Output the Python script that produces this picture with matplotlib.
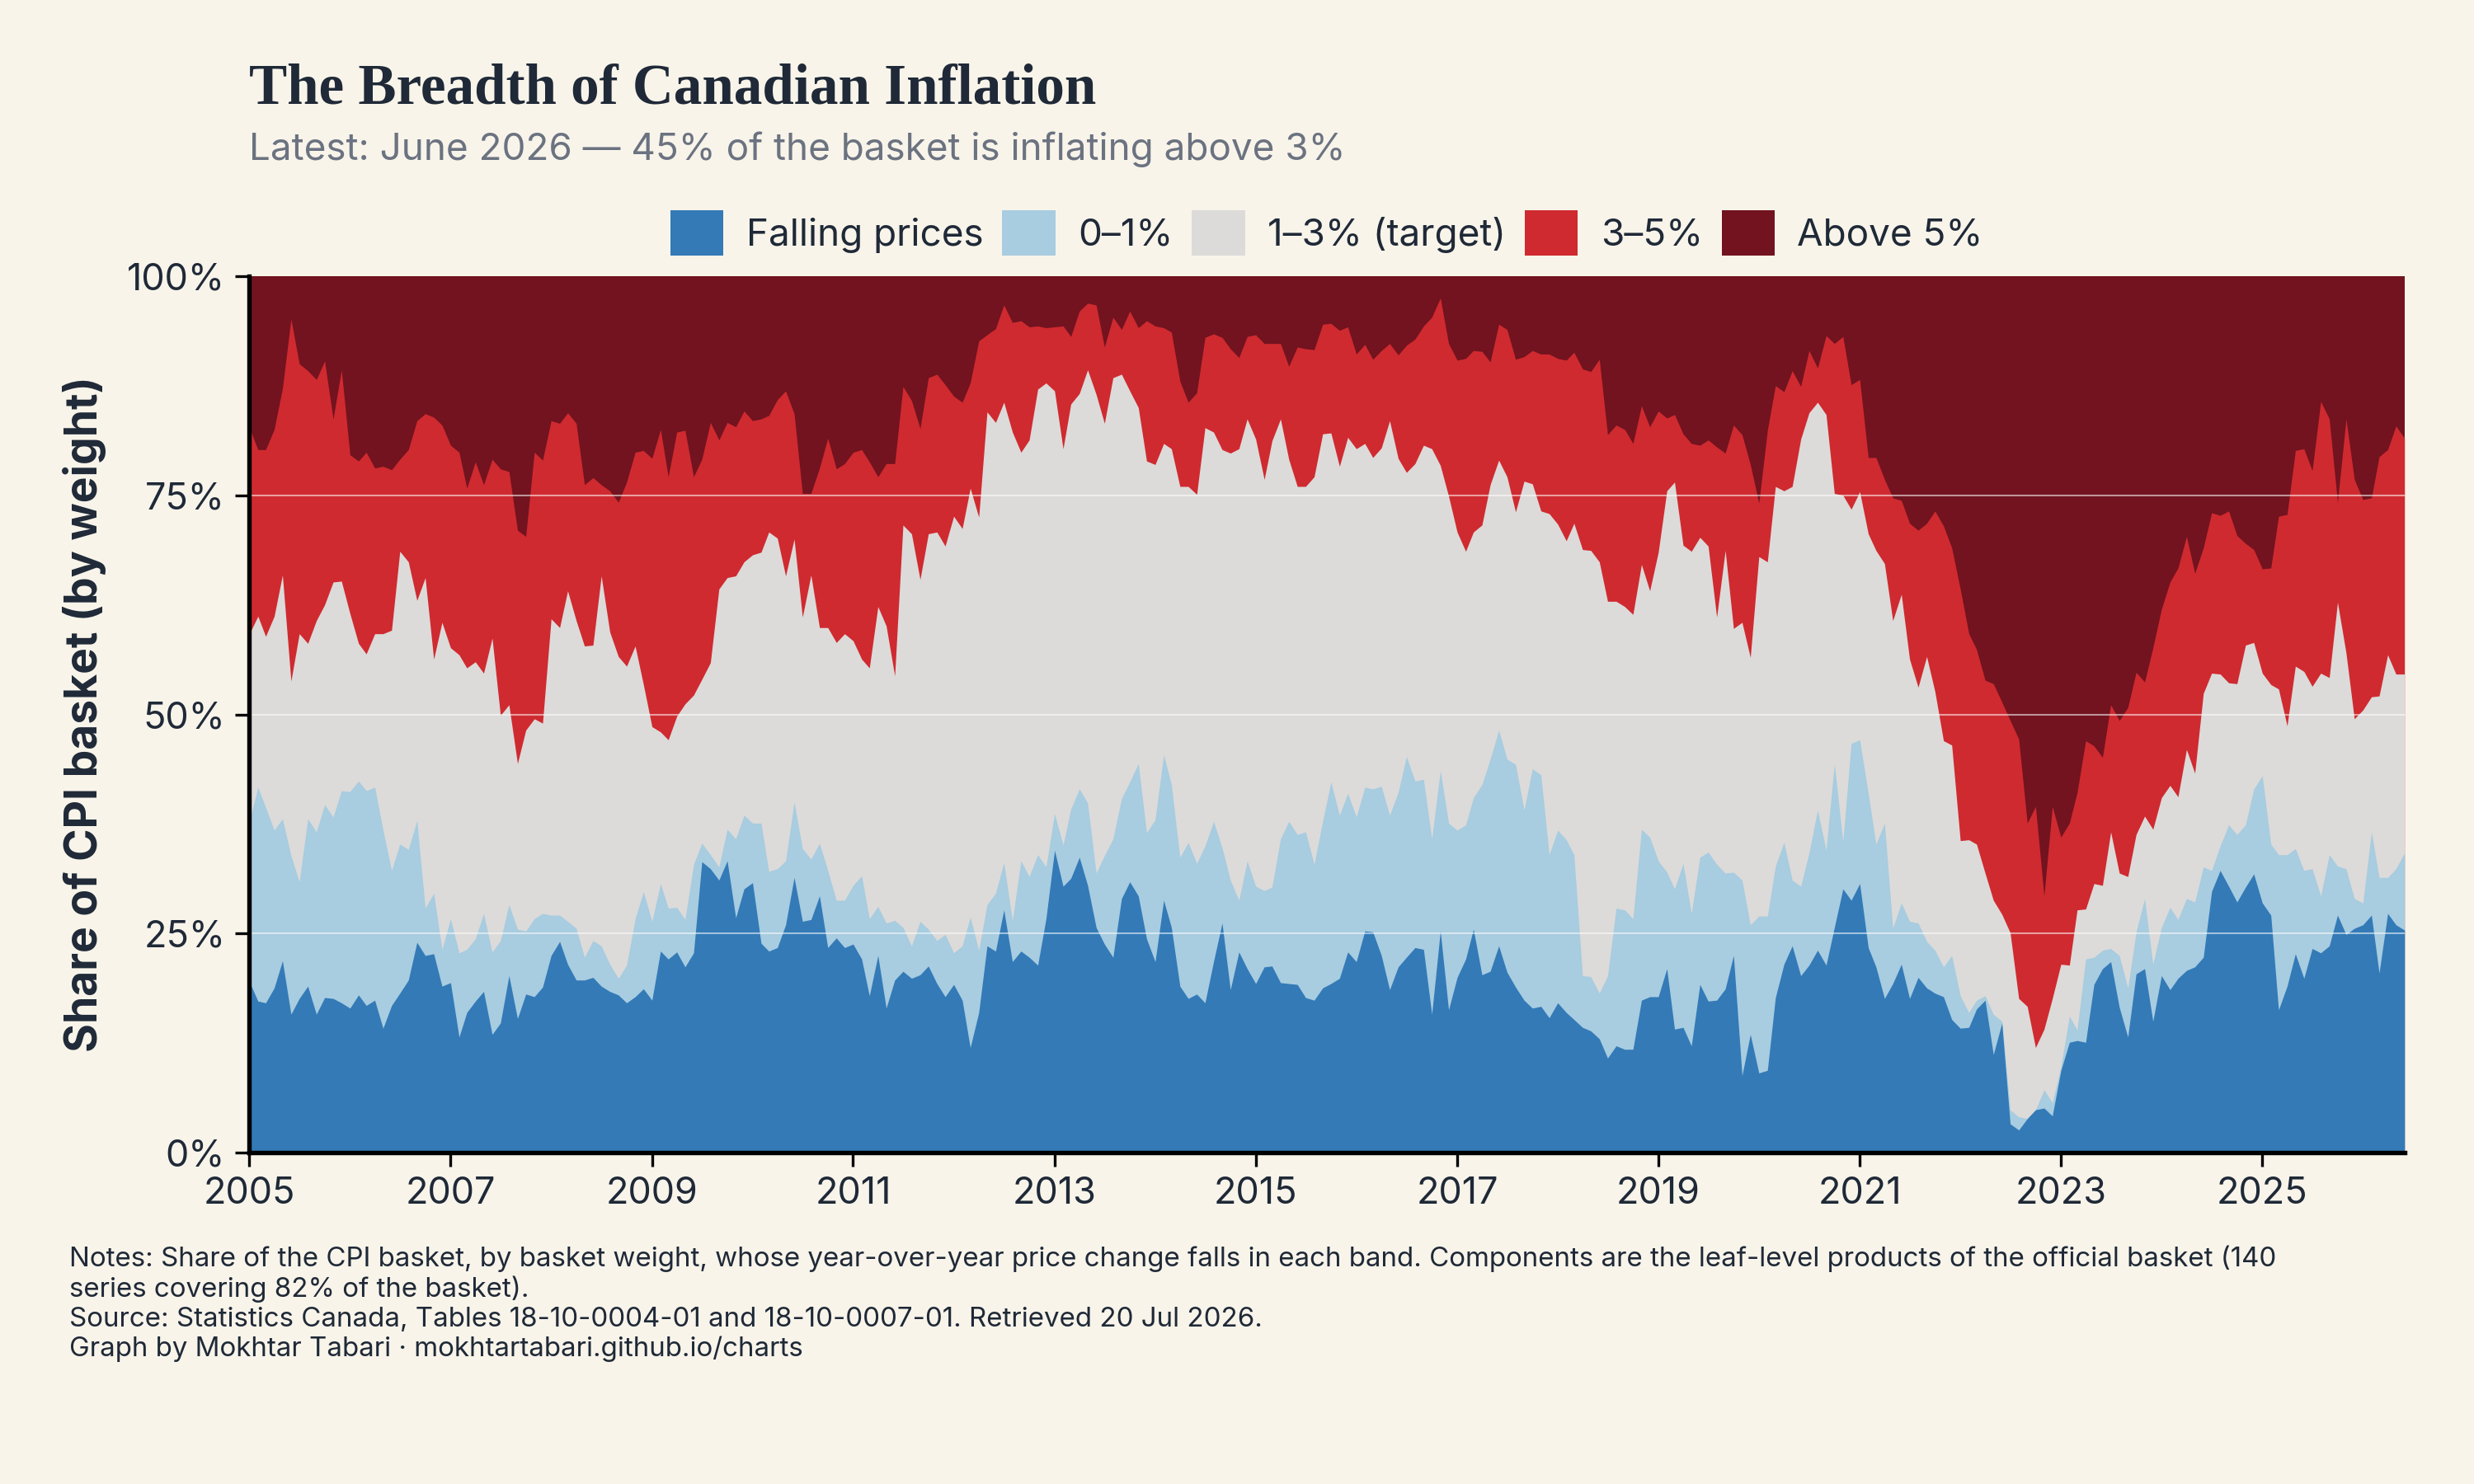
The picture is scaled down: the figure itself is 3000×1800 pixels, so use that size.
import numpy as np
import pandas as pd
import matplotlib
matplotlib.use("agg")
import matplotlib.pyplot as plt
from matplotlib.patches import Patch

plt.rcParams["font.family"] = ["Inter", "DejaVu Sans"]

months = pd.date_range("2005-01-01", "2026-06-01", freq="MS")

# share of the basket (by weight, %) whose y/y change is below each threshold
below_0 = [
    19.5, 17.3, 17.1, 18.8, 21.9, 15.8, 17.6, 19.0, 15.8, 17.7, 17.6, 17.1,
    16.5, 18.0, 16.8, 17.4, 14.2, 16.8, 18.2, 19.7, 24.0, 22.5, 22.7, 19.0,
    19.4, 13.2, 16.0, 17.3, 18.4, 13.5, 14.8, 20.2, 15.3, 18.1, 17.8, 18.9,
    22.5, 24.1, 21.5, 19.7, 19.7, 20.0, 19.0, 18.4, 18.0, 17.1, 17.8, 18.7,
    17.4, 23.0, 22.1, 22.9, 21.2, 22.8, 33.2, 32.4, 31.1, 33.3, 26.8, 30.1,
    30.8, 23.9, 23.0, 23.4, 26.0, 31.4, 26.4, 26.6, 29.3, 23.4, 24.5, 23.4,
    23.8, 22.1, 17.9, 22.5, 16.5, 19.7, 20.7, 19.9, 20.3, 21.3, 19.3, 17.8,
    19.2, 17.4, 12.0, 16.0, 23.6, 23.0, 27.7, 21.8, 23.0, 22.3, 21.4, 26.7,
    34.5, 30.4, 31.3, 33.7, 30.5, 25.7, 23.8, 22.3, 29.0, 30.9, 29.3, 24.4,
    21.8, 28.8, 25.7, 19.0, 17.6, 18.1, 17.1, 21.8, 26.2, 18.6, 22.9, 21.0,
    19.3, 21.2, 21.3, 19.4, 19.3, 19.2, 17.7, 17.4, 18.8, 19.3, 19.9, 22.9,
    21.8, 25.3, 25.2, 22.5, 18.6, 21.2, 22.3, 23.4, 23.2, 15.8, 25.3, 16.3,
    20.0, 22.1, 25.5, 20.3, 20.7, 23.6, 20.6, 18.9, 17.4, 16.5, 16.7, 15.4,
    17.1, 16.0, 15.2, 14.3, 13.9, 13.0, 10.8, 12.2, 11.8, 11.8, 17.4, 17.8,
    17.8, 21.0, 14.1, 14.3, 12.2, 19.2, 17.3, 17.4, 18.7, 22.5, 8.8, 13.5,
    9.1, 9.4, 17.7, 21.5, 23.6, 20.2, 21.4, 23.1, 21.4, 25.7, 30.1, 28.8,
    30.7, 23.4, 21.2, 17.6, 19.3, 21.5, 17.6, 20.0, 18.8, 18.2, 17.8, 15.2,
    14.2, 14.3, 16.4, 17.4, 11.2, 14.8, 3.3, 2.6, 3.9, 4.9, 5.1, 4.2,
    9.4, 12.6, 12.8, 12.6, 19.2, 21.0, 21.8, 16.6, 13.2, 20.4, 21.0, 15.0,
    20.2, 18.6, 19.9, 20.8, 21.2, 22.3, 29.8, 32.2, 30.4, 28.6, 30.3, 31.8,
    28.5, 27.1, 16.3, 19.0, 22.7, 19.9, 23.3, 22.8, 23.6, 27.1, 24.9, 25.6,
    26.0, 27.1, 20.5, 27.3, 26.0, 25.4,
]

below_1 = [
    37.8, 41.7, 39.4, 36.8, 38.1, 33.9, 30.9, 38.1, 36.6, 39.7, 38.3, 41.3,
    41.2, 42.4, 41.3, 41.7, 36.8, 32.2, 35.2, 34.6, 37.9, 27.9, 29.6, 23.2,
    26.7, 22.8, 23.2, 24.4, 27.3, 22.9, 24.2, 28.3, 25.5, 25.3, 26.7, 27.3,
    27.1, 27.1, 26.4, 25.6, 22.3, 24.2, 23.6, 21.5, 19.9, 21.4, 26.7, 29.8,
    26.4, 30.7, 27.9, 28.0, 26.6, 32.9, 35.3, 34.0, 32.6, 36.9, 35.8, 38.5,
    37.6, 37.6, 32.1, 32.4, 33.3, 40.0, 34.7, 33.5, 35.3, 32.2, 28.8, 28.8,
    30.5, 31.6, 26.7, 28.1, 26.2, 26.5, 25.7, 23.6, 26.4, 25.5, 24.2, 24.9,
    22.8, 23.6, 26.9, 23.1, 28.3, 29.6, 33.1, 26.5, 33.3, 31.5, 34.0, 32.6,
    38.7, 35.1, 39.2, 41.5, 39.9, 31.9, 33.9, 35.8, 40.4, 42.3, 44.4, 36.5,
    38.0, 45.4, 42.0, 33.7, 35.4, 33.0, 35.0, 37.8, 34.8, 31.1, 28.8, 33.3,
    30.4, 29.9, 30.3, 35.8, 37.8, 36.3, 36.6, 32.9, 37.8, 42.3, 38.5, 41.0,
    38.3, 41.7, 41.5, 41.8, 38.5, 41.1, 45.2, 42.4, 42.6, 35.8, 43.6, 37.6,
    36.8, 37.4, 40.5, 42.0, 44.9, 48.2, 44.9, 44.3, 39.1, 43.8, 43.1, 34.0,
    36.8, 35.7, 34.0, 20.2, 20.1, 18.2, 20.2, 27.9, 27.7, 26.7, 36.9, 36.0,
    33.3, 32.0, 30.1, 33.0, 27.3, 33.7, 34.3, 32.9, 31.9, 32.0, 31.1, 26.0,
    27.0, 27.0, 32.7, 35.4, 31.1, 30.4, 34.2, 39.1, 34.5, 44.4, 35.5, 46.7,
    47.1, 41.0, 35.2, 37.6, 25.6, 28.5, 26.4, 26.2, 24.1, 23.1, 21.2, 22.5,
    17.9, 16.0, 17.4, 17.9, 15.8, 15.0, 4.9, 4.1, 3.9, 4.9, 7.2, 5.7,
    9.8, 15.6, 14.0, 22.1, 22.3, 23.1, 23.3, 22.5, 18.8, 25.2, 29.0, 21.5,
    25.7, 28.0, 26.6, 29.0, 28.6, 32.6, 32.2, 35.0, 37.4, 36.3, 37.4, 41.5,
    43.0, 35.2, 34.0, 34.0, 34.7, 32.2, 32.4, 29.3, 34.0, 32.7, 32.4, 29.0,
    28.5, 36.6, 31.4, 31.4, 32.4, 34.2,
]

below_3 = [
    59.2, 61.2, 58.9, 61.2, 65.9, 53.8, 59.2, 58.1, 60.7, 62.5, 65.1, 65.2,
    61.5, 58.1, 56.9, 59.2, 59.2, 59.6, 68.6, 67.4, 63.0, 65.6, 56.3, 60.5,
    57.6, 56.8, 55.3, 56.0, 54.7, 58.7, 49.9, 51.1, 44.4, 48.2, 49.5, 49.0,
    60.9, 59.9, 64.1, 60.7, 57.8, 57.9, 65.8, 59.4, 56.6, 55.5, 57.8, 53.4,
    48.6, 48.0, 47.1, 49.8, 51.2, 52.2, 54.0, 55.9, 64.3, 65.6, 65.8, 67.4,
    68.2, 68.5, 70.8, 70.1, 65.8, 70.0, 61.1, 65.9, 59.9, 59.9, 58.2, 59.2,
    58.4, 56.3, 55.3, 62.3, 60.1, 54.4, 71.6, 70.6, 65.4, 70.6, 70.8, 69.2,
    72.6, 71.2, 75.8, 72.5, 84.5, 83.3, 85.6, 82.2, 79.9, 81.3, 87.1, 87.8,
    86.9, 80.3, 85.4, 86.6, 89.3, 86.5, 83.2, 88.4, 88.8, 86.9, 85.0, 78.9,
    78.5, 80.9, 80.3, 76.0, 76.0, 75.1, 82.7, 82.2, 80.2, 79.8, 80.3, 83.7,
    81.4, 76.8, 81.2, 83.7, 79.1, 76.0, 76.0, 77.1, 82.0, 82.1, 78.3, 81.6,
    80.3, 80.9, 79.3, 80.4, 83.5, 79.2, 77.6, 78.6, 80.7, 80.3, 78.4, 74.9,
    70.8, 68.6, 70.8, 71.6, 76.2, 79.0, 77.1, 73.1, 76.6, 76.3, 73.2, 72.9,
    71.7, 69.8, 71.8, 68.8, 68.7, 67.4, 62.9, 62.9, 62.3, 61.4, 67.1, 64.1,
    68.5, 75.5, 76.5, 69.3, 68.6, 70.2, 69.2, 61.1, 68.7, 59.8, 60.5, 56.5,
    68.0, 67.4, 76.0, 75.5, 76.0, 81.4, 84.4, 85.6, 84.2, 75.2, 75.0, 73.4,
    75.4, 70.6, 68.7, 67.2, 60.7, 63.7, 56.3, 53.1, 56.6, 52.6, 47.0, 46.5,
    35.6, 35.7, 35.2, 31.9, 28.8, 27.2, 25.1, 17.6, 16.7, 12.0, 14.1, 17.6,
    21.5, 21.4, 27.7, 27.8, 30.7, 30.5, 36.6, 31.9, 31.5, 36.3, 38.4, 36.9,
    40.5, 41.9, 40.6, 46.0, 43.3, 52.4, 54.7, 54.6, 53.6, 53.5, 57.9, 58.2,
    54.7, 53.4, 52.9, 48.7, 55.5, 54.9, 53.2, 54.7, 54.2, 62.8, 57.0, 49.5,
    50.5, 52.0, 52.1, 56.8, 54.6, 54.6,
]

below_5 = [
    82.7, 80.2, 80.2, 82.5, 87.2, 95.1, 90.0, 89.2, 88.2, 90.3, 83.7, 89.3,
    79.6, 78.9, 79.9, 78.1, 78.3, 77.9, 79.1, 80.2, 83.5, 84.3, 83.9, 83.0,
    80.7, 79.9, 75.8, 78.8, 76.2, 79.1, 78.0, 77.7, 71.0, 70.3, 79.9, 79.0,
    83.5, 83.2, 84.4, 83.2, 76.2, 77.0, 76.2, 75.5, 74.2, 76.5, 79.9, 80.1,
    79.2, 82.5, 77.1, 82.2, 82.4, 77.1, 79.1, 83.3, 81.3, 83.3, 82.8, 84.6,
    83.5, 83.7, 84.1, 85.9, 86.9, 84.3, 75.2, 75.2, 78.1, 81.5, 78.0, 78.6,
    79.9, 80.2, 78.8, 77.1, 78.6, 78.6, 87.4, 85.8, 82.6, 88.4, 88.8, 87.6,
    86.3, 85.6, 87.8, 92.6, 93.3, 94.0, 96.7, 94.7, 94.9, 94.2, 94.3, 94.1,
    94.2, 94.3, 93.1, 96.0, 96.9, 96.7, 91.9, 95.3, 93.9, 96.0, 94.1, 94.9,
    94.3, 94.1, 93.6, 88.0, 85.6, 86.7, 93.0, 93.4, 93.0, 91.7, 90.7, 93.1,
    93.3, 92.3, 92.3, 92.3, 89.7, 91.9, 91.7, 91.6, 94.5, 94.6, 93.8, 94.2,
    91.1, 92.2, 90.5, 91.5, 92.3, 91.0, 92.1, 92.8, 94.3, 95.3, 97.5, 92.3,
    90.4, 90.6, 91.5, 91.4, 90.2, 94.5, 93.9, 90.5, 90.8, 91.5, 91.1, 91.1,
    90.6, 90.4, 91.3, 89.4, 89.1, 90.5, 81.9, 83.0, 82.5, 80.9, 85.2, 82.8,
    84.6, 83.8, 84.2, 82.0, 80.9, 80.7, 81.3, 80.5, 79.8, 83.0, 81.9, 78.5,
    74.1, 82.4, 87.5, 86.8, 89.2, 87.4, 91.5, 89.5, 93.2, 92.3, 93.1, 87.6,
    88.2, 79.3, 79.3, 76.8, 74.7, 74.4, 71.8, 71.0, 71.8, 73.2, 71.5, 69.0,
    64.3, 59.2, 57.4, 53.9, 53.5, 51.4, 49.3, 47.2, 37.6, 39.5, 29.3, 39.5,
    36.0, 37.6, 41.1, 47.0, 46.4, 45.1, 51.1, 49.3, 50.8, 54.8, 53.7, 57.6,
    62.0, 65.1, 66.7, 70.3, 66.1, 69.0, 73.0, 72.7, 73.2, 70.4, 69.5, 68.8,
    66.6, 66.7, 72.6, 72.8, 80.1, 80.3, 77.8, 85.7, 83.7, 74.2, 83.7, 76.8,
    74.5, 74.7, 79.4, 80.2, 82.9, 81.5,
]

bands = ["Falling prices", "0\u20131%", "1\u20133% (target)", "3\u20135%", "Above 5%"]
colors = ["#337ab7", "#a8cce0", "#dcdbd9", "#cf2a30", "#72131f"]
tick_years = list(range(2005, 2026, 2))

bg = "#f8f4ea"
ink = "#1f2937"

total = np.full(len(months), 100.0)
tops = [np.array(below_0), np.array(below_1), np.array(below_3), np.array(below_5), total]

fig = plt.figure(figsize=(10, 6), dpi=300, facecolor=bg)
ax = fig.add_axes([0.1008, 0.2232, 0.8711, 0.5908])
ax.set_facecolor(bg)

# paint from the top band down so neighbouring fills share edges cleanly
for top, c in reversed(list(zip(tops, colors))):
    ax.fill_between(months, 0, top, color=c, lw=0, zorder=2)

for v in [25, 50, 75]:
    ax.axhline(v, color="white", lw=0.5, alpha=0.55, zorder=3)

ax.set_xlim(months[0], months[-1])
ax.set_ylim(0, 100)
ax.set_yticks([0, 25, 50, 75, 100])
ax.set_yticklabels([f"{v}%" for v in [0, 25, 50, 75, 100]])
ax.set_xticks(pd.to_datetime([f"{y}-01-01" for y in tick_years]))
ax.set_xticklabels([str(y) for y in tick_years])

for s in ["top", "right"]:
    ax.spines[s].set_visible(False)
for s in ["left", "bottom"]:
    ax.spines[s].set_color("black")
    ax.spines[s].set_linewidth(1.3)
    ax.spines[s].set_zorder(5)
ax.tick_params(axis="both", colors="black", labelcolor=ink, labelsize=10.8,
               length=4, width=0.8, direction="out", pad=3)

ax.set_ylabel("Share of CPI basket (by weight)", fontsize=12.8, fontweight="bold",
              color=ink, labelpad=6)

handles = [Patch(facecolor=c, edgecolor="none") for c in colors]
ax.legend(handles, bands, loc="lower center", bbox_to_anchor=(0.5, 1.0), ncol=5,
          frameon=False, fontsize=11, handlelength=1.4, handleheight=1.45,
          handletextpad=0.6, columnspacing=0.5, labelcolor=ink, borderaxespad=0.15)

fig.text(0.1008, 0.930, "The Breadth of Canadian Inflation", fontsize=16.6,
         fontweight="bold", family=["Liberation Serif", "DejaVu Serif"],
         color=ink, va="baseline")
fig.text(0.1008, 0.892, "Latest: June 2026 \u2014 45% of the basket is inflating above 3%",
         fontsize=11, color="#6b7280", va="baseline")

notes = ("Notes: Share of the CPI basket, by basket weight, whose year-over-year price change falls in each band. "
         "Components are the leaf-level products of the official basket (140\n"
         "series covering 82% of the basket).\n"
         "Source: Statistics Canada, Tables 18-10-0004-01 and 18-10-0007-01. Retrieved 20 Jul 2026.\n"
         "Graph by Mokhtar Tabari \u00b7 mokhtartabari.github.io/charts")
fig.text(0.028, 0.161, notes, fontsize=7.95, color=ink, va="top", linespacing=1.2)

fig.savefig("out.png", dpi=300, facecolor=bg)
plt.close(fig)
